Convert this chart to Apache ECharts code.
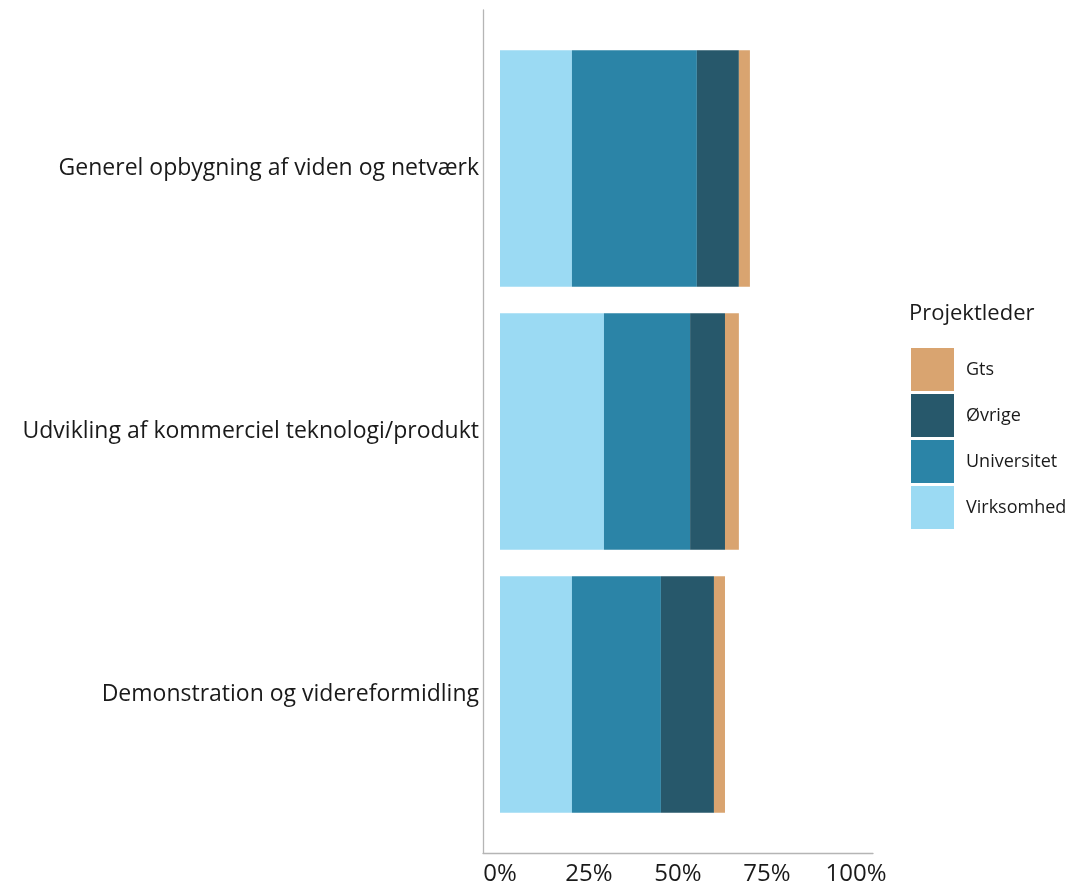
<!DOCTYPE html>
<html>
<head>
<meta charset="utf-8">
<script src="https://cdn.jsdelivr.net/npm/echarts@6/dist/echarts.min.js"></script>
<style>
  html, body { margin: 0; padding: 0; background: #fff; }
  #main { width: 1074px; height: 886px; }
</style>
</head>
<body>
<div id="main"></div>
<script>
// kategorier (oppefra og ned)
var categories = ['Generel opbygning af viden og netværk', 'Udvikling af kommerciel teknologi/produkt', 'Demonstration og videreformidling'];
// andele i procent
var virksomhed = [20.2, 29.2, 20.2];
var universitet = [35.1, 24.2, 25.0];
var oevrige = [11.8, 9.8, 14.9];
var gts = [3.1, 3.9, 3.1];
var xTicks = [0, 25, 50, 75, 100];

var fontName = '"Open Sans", "Noto Sans", sans-serif';
var axisGrey = '#b5b5b5';

var chart = echarts.init(document.getElementById('main'));

function serie(name, data, color) {
  return {
    name: name,
    type: 'bar',
    stack: 'total',
    xAxisIndex: 0,
    yAxisIndex: 0,
    barWidth: '90%',
    itemStyle: { color: color },
    emphasis: { disabled: true },
    data: data
  };
}

chart.setOption({
  animation: false,
  title: {
    text: 'Projektleder',
    left: 909,
    top: 303,
    padding: 0,
    textStyle: { fontFamily: fontName, fontWeight: 'normal', fontSize: 22, color: '#1a1a1a' }
  },
  legend: {
    orient: 'vertical',
    left: 911,
    top: 348,
    padding: 0,
    itemWidth: 43,
    itemHeight: 43,
    itemGap: 3,
    icon: 'rect',
    data: ['Gts', 'Øvrige', 'Universitet', 'Virksomhed'],
    textStyle: { fontFamily: fontName, fontSize: 18, color: '#1a1a1a', padding: [0, 0, 0, 7] }
  },
  grid: [
    { left: 500, right: 218, top: 37, bottom: 58 },
    { left: 483, right: 201, top: 10, bottom: 33 }
  ],
  xAxis: [
    {
      type: 'value',
      gridIndex: 0,
      min: xTicks[0],
      max: xTicks[xTicks.length - 1],
      interval: 25,
      axisLine: { show: false },
      axisTick: { show: false },
      splitLine: { show: false },
      axisLabel: {
        margin: 36,
        formatter: '{value}%',
        fontFamily: fontName,
        fontSize: 24,
        color: '#1a1a1a'
      }
    },
    {
      type: 'value',
      gridIndex: 1,
      min: 0,
      max: 1,
      axisLine: { show: true, lineStyle: { color: axisGrey, width: 1.3 } },
      axisTick: { show: false },
      splitLine: { show: false },
      axisLabel: { show: false }
    }
  ],
  yAxis: [
    {
      type: 'category',
      gridIndex: 0,
      inverse: true,
      data: categories,
      offset: 17,
      axisLine: { show: false },
      axisTick: { show: true, inside: true, alignWithLabel: true, length: 7, lineStyle: { color: '#a8a8a8', width: 1 } },
      axisLabel: {
        margin: 4,
        fontFamily: fontName,
        fontSize: 23,
        color: '#1a1a1a'
      }
    },
    {
      type: 'value',
      gridIndex: 1,
      min: 0,
      max: 1,
      axisLine: { show: true, lineStyle: { color: axisGrey, width: 1.3 } },
      axisTick: { show: false },
      splitLine: { show: false },
      axisLabel: { show: false }
    }
  ],
  series: [
    serie('Virksomhed', virksomhed, '#9bdaf3'),
    serie('Universitet', universitet, '#2b84a7'),
    serie('Øvrige', oevrige, '#27586b'),
    serie('Gts', gts, '#d9a470')
  ]
});
</script>
</body>
</html>
